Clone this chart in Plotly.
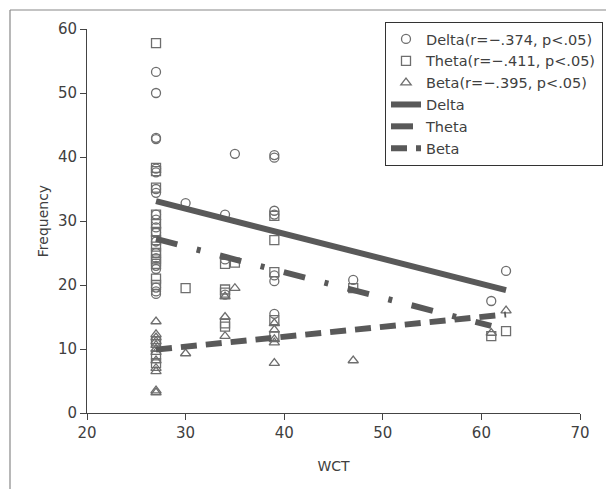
import plotly.graph_objects as go

# ---- data ----
delta_x = [27]*20 + [30, 34, 34, 34, 35, 39, 39, 39, 39, 39, 39, 39, 47, 61, 62.5]
delta_y = [53.3, 50.0, 43.0, 42.8, 38.2, 37.6, 35.0, 34.4, 31.0, 30.2, 29.0, 28.2, 26.8, 25.0,
           24.2, 23.0, 22.5, 19.6, 19.0, 18.6,
           32.8, 31.0, 24.0, 18.5, 40.5, 40.3, 39.9, 31.6, 31.0, 21.5, 20.6, 15.5, 20.8, 17.5, 22.2]

theta_x = [27]*17 + [30, 34, 34, 34, 34, 34, 35, 39, 39, 39, 39, 39, 47, 61, 62.5]
theta_y = [57.8, 38.3, 37.8, 35.2, 31.0, 29.5, 28.3, 27.0, 26.0, 25.0, 24.0, 23.3, 21.0, 20.0,
           11.2, 9.0, 7.8,
           19.5, 23.3, 19.3, 18.8, 14.0, 13.5, 23.5, 30.8, 27.0, 22.0, 14.5, 12.0, 19.5, 12.0, 12.8]

beta_x = [27]*12 + [30, 34, 34, 34, 35, 39, 39, 39, 39, 39, 47, 61, 62.5]
beta_y = [14.3, 12.3, 11.8, 11.2, 10.6, 10.0, 9.5, 8.2, 7.0, 6.5, 3.5, 3.2,
          9.3, 18.2, 15.0, 12.0, 19.5, 14.0, 13.0, 11.5, 11.0, 7.8, 8.2, 12.5, 16.0]

delta_fit_x = [27, 62.5]
delta_fit_y = [33.1, 19.2]
theta_fit_x = [27, 61]
theta_fit_y = [27.2, 13.6]
beta_fit_x = [27, 62.5]
beta_fit_y = [9.9, 15.4]

scatter_names = ["Delta(r=−.374, p<.05)", "Theta(r=−.411, p<.05)", "Beta(r=−.395, p<.05)"]
line_names = ["Delta", "Theta", "Beta"]

mcol = "#6e6e6e"
lcol = "#595959"
FONT = "DejaVu Sans"

fig = go.Figure()
for xs, ys, nm, sym in [(delta_x, delta_y, scatter_names[0], "circle-open"),
                        (theta_x, theta_y, scatter_names[1], "square-open"),
                        (beta_x, beta_y, scatter_names[2], "triangle-up-open")]:
    fig.add_trace(go.Scatter(x=xs, y=ys, mode="markers", name=nm,
                             marker=dict(symbol=sym, size=9, color=mcol,
                                         line=dict(width=1.3, color=mcol))))

for xs, ys, nm, dash in [(delta_fit_x, delta_fit_y, line_names[0], "solid"),
                         (theta_fit_x, theta_fit_y, line_names[1], "22px,20px,4px,20px"),
                         (beta_fit_x, beta_fit_y, line_names[2], "16px,9px")]:
    fig.add_trace(go.Scatter(x=xs, y=ys, mode="lines", name=nm,
                             line=dict(color=lcol, width=6, dash=dash)))

OFF = 8  # page body margin
W, H = 614 - OFF, 489 - OFF
L, R, T, B = 87 - OFF, 34, 29 - OFF, 76
pw, ph = W - L - R, H - T - B

def px(xp):  # page pixel -> paper x
    return (xp - OFF - L) / pw

def py(yp):  # page pixel -> paper y
    return (H - B - (yp - OFF)) / ph

fig.add_shape(type="line", xref="paper", yref="paper", x0=px(10), x1=px(10), y0=py(10), y1=py(489),
              line=dict(color="#888888", width=1.2))
fig.add_shape(type="line", xref="paper", yref="paper", x0=px(10), x1=px(614), y0=py(10), y1=py(10),
              line=dict(color="#888888", width=1.2))

fig.update_layout(
    width=W, height=H,
    margin=dict(l=L, r=R, t=T, b=B, autoexpand=False),
    paper_bgcolor="white", plot_bgcolor="white",
    font=dict(family=FONT, size=14, color="#404040"),
    showlegend=True,
    legend=dict(x=px(385), y=py(22), xanchor="left", yanchor="top",
                bordercolor="#333333", borderwidth=1, bgcolor="white",
                font=dict(size=14.5, color="#404040"), itemwidth=30,
                tracegroupgap=0),
    xaxis=dict(range=[20, 70], tickvals=[20, 30, 40, 50, 60, 70],
               showgrid=False, zeroline=False, showline=True, linecolor="#444444",
               linewidth=1, ticks="outside", ticklen=6, tickcolor="#444444",
               tickfont=dict(size=15), automargin=False,
               title=dict(text="WCT", standoff=20, font=dict(size=14))),
    yaxis=dict(range=[0, 60], tickvals=[0, 10, 20, 30, 40, 50, 60],
               showgrid=False, zeroline=False, showline=True, linecolor="#444444",
               linewidth=1, ticks="outside", ticklen=6, tickcolor="#444444",
               tickfont=dict(size=15), automargin=False,
               title=dict(text="Frequency", standoff=6, font=dict(size=14))),
)

fig.write_html("out.html")
